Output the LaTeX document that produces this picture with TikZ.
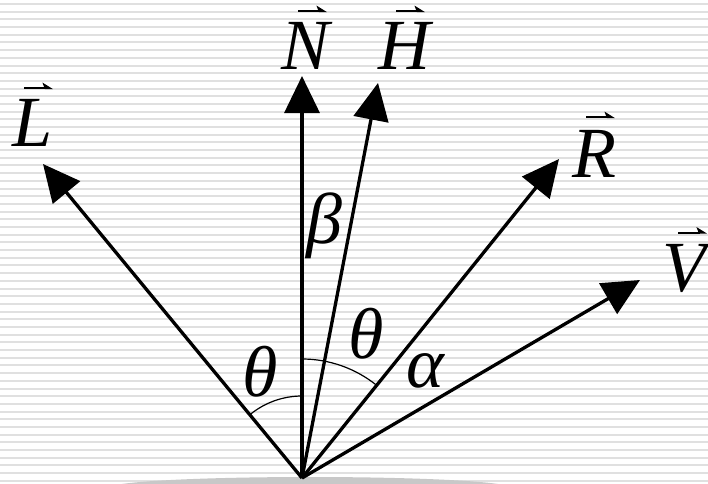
\documentclass[tikz,border=0pt]{standalone}
\usepackage{fontspec}
\setmainfont{LiberationSerif}[Extension=.ttf, UprightFont=*-Regular, ItalicFont=*-Italic, BoldFont=*-Bold]
\usetikzlibrary{arrows.meta,calc}
\definecolor{stripegray}{RGB}{224,224,224}
\definecolor{surfacegray}{RGB}{200,200,200}
\begin{document}
\begin{tikzpicture}[x=1pt,y=1pt,
  vec/.style={line width=3.3pt,-{Triangle[length=37pt,width=35pt]}},
  lbl/.style={inner sep=0pt,font=\fontsize{72}{72}\selectfont\itshape},
  vecbar/.style={line width=2.2pt,-{Stealth[harpoon,length=9pt,width=11pt,inset=2pt]}},
  anglearc/.style={line width=1.2pt},
  stripe/.style={line width=2pt,draw=stripegray}]
\useasboundingbox (0,0) rectangle (708,483);
\begin{scope}
  \clip (0,0) rectangle (708,483);
  \fill[white] (0,0) rectangle (708,483);
  \foreach \i in {0,...,62} \draw[stripe] (0,{479-7.69*\i}) -- (708,{479-7.69*\i});
  \fill[surfacegray] (310,-4.6) ellipse [x radius=200, y radius=10.6];
\end{scope}
% vectors
\coordinate (O) at (302,5);
\coordinate (tL) at (43,319);
\coordinate (tN) at (302,407);
\coordinate (tH) at (378,400);
\coordinate (tR) at (559,324);
\coordinate (tV) at (640,203);
\draw[vec] (O) -- (tL);
\draw[vec] (O) -- (tN);
\draw[vec] (O) -- (tH);
\draw[vec] (O) -- (tR);
\draw[vec] (O) -- (tV);
% angle arcs
\draw[anglearc] ($(O)+(129.5:82)$) arc[start angle=129.5,end angle=90,radius=82];
\draw[anglearc] ($(O)+(90:119)$) arc[start angle=90,end angle=51.1,radius=119];
% labels
\node[lbl] (lN) at (306,437) {N};
\node[lbl] (lH) at (404,437) {H};
\node[lbl] (lL) at (33,360) {L};
\node[lbl] (lR) at (594,329) {R};
\node[lbl] (lV) at (684,215) {V};
\draw[vecbar] ([shift={(-8pt,11pt)}]lN.north) -- ++(29pt,0);
\draw[vecbar] ([shift={(-8pt,11pt)}]lH.north) -- ++(29pt,0);
\draw[vecbar] ([shift={(-9pt,11pt)}]lL.north) -- ++(29pt,0);
\draw[vecbar] ([shift={(-8pt,13pt)}]lR.north) -- ++(29pt,0);
\draw[vecbar] ([shift={(-6pt,11pt)}]lV.north) -- ++(29pt,0);
\node[lbl] (beta) at (324,257) {β};
\node[lbl] (th1) at (260,111) {θ};
\node[lbl] (th2) at (366,149) {θ};
\node[lbl] (alpha) at (425,112) {α};
\end{tikzpicture}
\end{document}
